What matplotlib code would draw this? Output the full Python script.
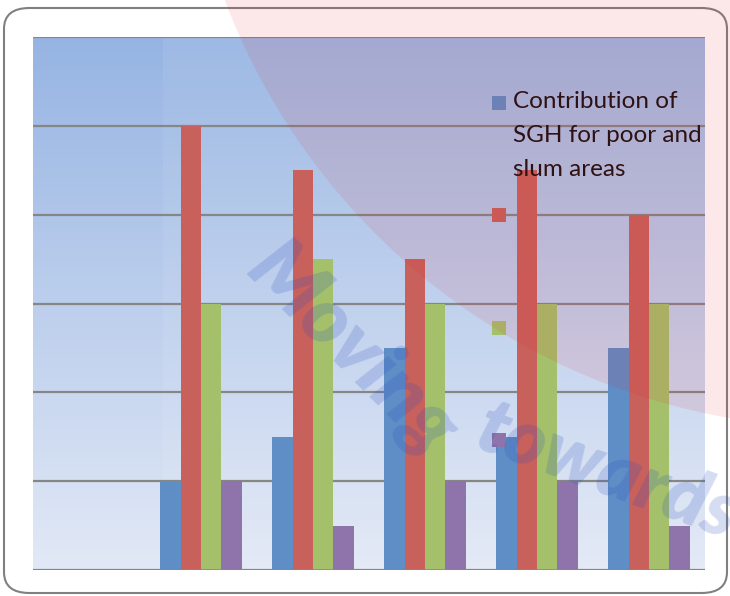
import numpy as np
import matplotlib.pyplot as plt
from matplotlib.patches import Rectangle, FancyBboxPatch, Ellipse

# datos (6 categorias, la primera vacia)
categorias = ["", "", "", "", "", ""]
series = ["Contribution of\nSGH for poor and\nslum areas", "", "", ""]
azul = [0, 1, 1.5, 2.5, 1.5, 2.5]
rojo = [0, 5, 4.5, 3.5, 4.5, 4]
verde = [0, 3, 3.5, 3, 3, 3]
morado = [0, 1, 0.5, 1, 1, 0.5]
valores = [azul, rojo, verde, morado]
colores = ["#5f8ec6", "#c8605c", "#a4c06a", "#8e74aa"]

W, H = 730, 596


def fx(x):
    return x / W


def fy(y):
    return 1 - y / H


fig = plt.figure(figsize=(W / 100, H / 100), dpi=100)
fig.patch.set_facecolor("white")

# marco redondeado exterior
marco = FancyBboxPatch((fx(4), fy(593)), fx(723), 585 / H,
                       boxstyle="round,pad=0,rounding_size=0.035",
                       transform=fig.transFigure, facecolor="white",
                       edgecolor="#808080", linewidth=1.5)
fig.add_artist(marco)

ax = fig.add_axes([fx(33), fy(570), fx(705 - 33), 533 / H])
ax.set_zorder(2)

# fondo degradado
grad = np.linspace(0, 1, 256).reshape(-1, 1)
top = np.array([0x96, 0xb4, 0xe3]) / 255
bot = np.array([0xe2, 0xe9, 0xf6]) / 255
img = top + (bot - top) * grad[:, :, None]
ax.imshow(img, extent=[0, 1, 0, 1], transform=ax.transAxes,
          aspect="auto", zorder=0)
ax.add_patch(Rectangle(((163 - 33) / 672, 0), 1, 1, transform=ax.transAxes,
                       facecolor="white", alpha=0.07, zorder=0.5))

x = np.arange(len(categorias))
ancho = 0.182
for i, (vals, c) in enumerate(zip(valores, colores)):
    ax.bar(x + (i - 1.5) * ancho, vals, ancho, color=c, zorder=2)

ax.set_xlim(-0.5, len(categorias) - 0.5)
ax.set_ylim(0, 6)
ax.set_yticks(np.arange(0, 7, 1))
ax.set_xticks([])
ax.tick_params(left=False, labelleft=False)
ax.grid(axis="y", color="#868686", linewidth=1.6)
ax.set_axisbelow(True)
for s in ax.spines.values():
    s.set_visible(False)
ax.axhline(0, color="#868686", linewidth=1.8, zorder=3)

# leyenda manual
ys = [103, 215, 328, 440]
for lab, c, y in zip(series, colores, ys):
    fig.add_artist(Rectangle((fx(492), fy(y + 7)), 14 / W, 14 / H,
                             transform=fig.transFigure, facecolor=c,
                             edgecolor="none", zorder=5))
    if lab:
        fig.text(fx(513), fy(y - 12), lab, ha="left", va="top",
                 fontsize=17.5, family="Lato", color="#1a1010",
                 linespacing=1.75, zorder=5)

# marca de agua
fig.add_artist(Ellipse((fx(844), fy(-234)), 2 * 662 / W, 2 * 662 / H,
                       transform=fig.transFigure, facecolor="#e8202a",
                       edgecolor="none", alpha=0.1, zorder=10))
fig.text(fx(352), fy(350), "Moving", rotation=-45, ha="center", va="center",
         fontsize=58, fontweight="heavy", style="italic", family="Lato",
         color="#3050c0", alpha=0.2, zorder=11)
fig.text(fx(608), fy(472), "towards", rotation=-20, ha="center", va="center",
         fontsize=56, fontweight="heavy", style="italic", family="Lato",
         color="#3050c0", alpha=0.2, zorder=11)

fig.savefig("out.png", dpi=100)
